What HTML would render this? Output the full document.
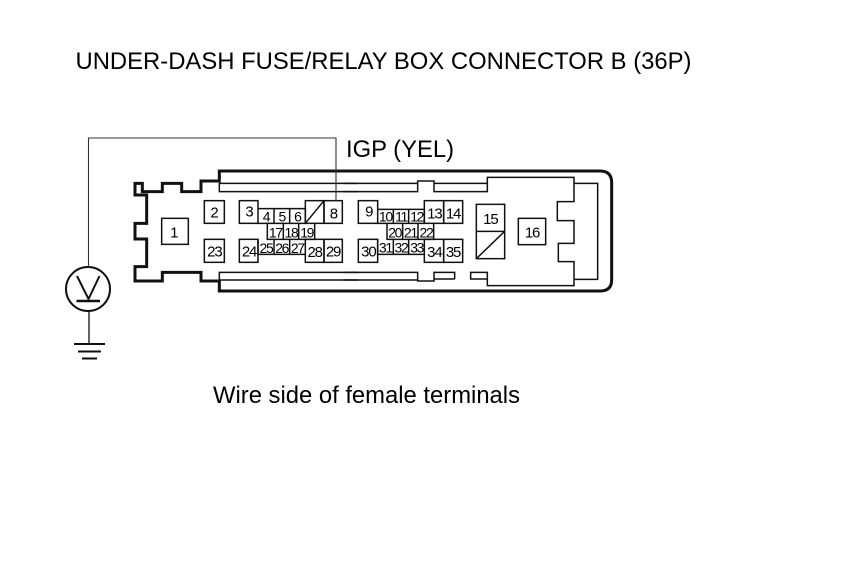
<!DOCTYPE html>
<html>
<head>
<meta charset="utf-8">
<style>
html,body{margin:0;padding:0;background:#fff;width:860px;height:577px;overflow:hidden}
svg{display:block}
text{font-family:"Liberation Sans",sans-serif;fill:#000}
.n text{font-size:45px;text-anchor:middle;letter-spacing:-3.500px}
.n text.m{font-size:42px;letter-spacing:-4px}
.s{fill:none;stroke:#111;stroke-width:4.500}
.t{fill:none;stroke:#111;stroke-width:9;stroke-linejoin:miter}
</style>
</head>
<body>
<svg width="860" height="577" viewBox="0 0 860 577" xmlns="http://www.w3.org/2000/svg">
<rect width="860" height="577" fill="#fff"/>
<text x="75.500" y="69" font-size="24" textLength="616" lengthAdjust="spacingAndGlyphs">UNDER-DASH FUSE/RELAY BOX CONNECTOR B (36P)</text>
<text x="346" y="157" font-size="24" textLength="108" lengthAdjust="spacingAndGlyphs">IGP (YEL)</text>
<text x="213" y="403" font-size="24" textLength="307" lengthAdjust="spacingAndGlyphs">Wire side of female terminals</text>

<g transform="translate(125 160) scale(.33333)">
<path class="t" d="M700 393H283V363H228V337H112V363H30V320H65V237H30V190H65V105H30V70H52V95H112V70H170V95H228V63H283V33H700"/>
<path class="s" d="M700 70H283V95H700M700 337H283V360H700"/>
<g class="s">
<rect x="110" y="175" width="80" height="78"/>
<rect x="238" y="122" width="60" height="68"/>
<rect x="238" y="238" width="60" height="69"/>
<rect x="343" y="122" width="56" height="68"/>
<path d="M399 146H541V190H399M447 146V190M494 146V190"/>
<rect x="541" y="122" width="56" height="68"/>
<path d="M541 190L597 122"/>
<rect x="597" y="122" width="55" height="68"/>
<path d="M427 190V238H569V190M475 190V238M521 190V238"/>
<rect x="343" y="238" width="56" height="69"/>
<path d="M399 238V283H541M447 238V283M494 238V283"/>
<rect x="541" y="238" width="56" height="69"/>
<rect x="597" y="238" width="55" height="69"/>
</g>
<g class="n">
<text x="146" y="232">1</text>
<text x="267" y="172">2</text>
<text x="268" y="290">23</text>
<text x="372" y="170">3</text>
<text class="m" x="423" y="184">4</text>
<text class="m" x="470" y="184">5</text>
<text class="m" x="517" y="184">6</text>
<text x="625" y="176">8</text>
<text class="m" x="451" y="232">17</text>
<text class="m" x="498" y="232">18</text>
<text class="m" x="545" y="232">19</text>
<text x="372" y="290">24</text>
<text class="m" x="423" y="279">25</text>
<text class="m" x="470" y="279">26</text>
<text class="m" x="517" y="279">27</text>
<text x="569" y="291">28</text>
<text x="624" y="290">29</text>
</g>
</g>

<g transform="translate(350 160) scale(.33333)">
<path class="t" d="M-20 33H750Q785 33 785 68V360Q785 393 750 393H-20"/>
<path class="s" d="M-20 70H203V63H252V70H412V52H672V70H743V358H672M-20 95H203V63M252 63V95H412V52M672 52V125H622V182H672V250H625V305H672V377H412V337H362V357H412M-20 337H203V363H252V337H314V357M-20 360H203M252 357H314"/>
<g class="s">
<rect x="25" y="122" width="58" height="68"/>
<path d="M83 148H223V190H83M130 148V190M176 148V190"/>
<rect x="223" y="122" width="58" height="68"/>
<rect x="281" y="122" width="57" height="68"/>
<path d="M111 190V238H251V190M158 190V238M204 190V238"/>
<rect x="25" y="238" width="58" height="69"/>
<path d="M83 238V283H223M130 238V283M176 238V283"/>
<rect x="223" y="238" width="58" height="69"/>
<rect x="281" y="238" width="57" height="69"/>
<rect x="379" y="133" width="85" height="163"/>
<path d="M379 214H464M379 296L464 214"/>
<rect x="505" y="175" width="82" height="79"/>
</g>
<g class="n">
<text x="56" y="170">9</text>
<text class="m" x="106" y="185">10</text>
<text class="m" x="153" y="185">11</text>
<text class="m" x="200" y="185">12</text>
<text x="253" y="176">13</text>
<text x="309" y="176">14</text>
<text class="m" x="134" y="232">20</text>
<text class="m" x="181" y="232">21</text>
<text class="m" x="228" y="232">22</text>
<text x="55" y="289">30</text>
<text class="m" x="106" y="278">31</text>
<text class="m" x="153" y="278">32</text>
<text class="m" x="200" y="278">33</text>
<text x="253" y="291">34</text>
<text x="309" y="291">35</text>
<text x="421" y="192">15</text>
<text x="546" y="232">16</text>
</g>
</g>

<path d="M88.500 267V138H336V201" fill="none" stroke="#333" stroke-width="1.100"/>
<circle cx="88" cy="289" r="22" fill="#fff" stroke="#111" stroke-width="2"/>
<path d="M77 276L88.500 299L99.500 276" fill="none" stroke="#111" stroke-width="2"/>
<path d="M76.500 301H100" stroke="#111" stroke-width="2.400"/>
<path d="M89 311V344" stroke="#111" stroke-width="1.300"/>
<path d="M74 344H105" stroke="#111" stroke-width="2"/>
<path d="M78 351.500H101" stroke="#111" stroke-width="2"/>
<path d="M82 358.500H97" stroke="#111" stroke-width="2"/>
</svg>
</body>
</html>
